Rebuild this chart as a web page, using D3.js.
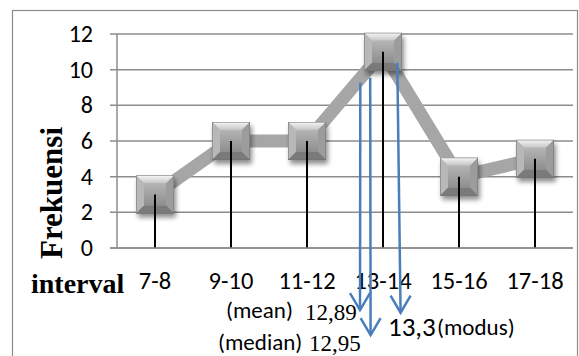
<!DOCTYPE html>
<html><head><meta charset="utf-8">
<script src="https://cdn.jsdelivr.net/npm/d3@7"></script>
<style>
html,body{margin:0;padding:0;background:#fff;}
svg{display:block;}
</style></head>
<body>
<svg id="chart" width="579" height="356"></svg>
<script>
// ---- data ----
const categories = ["7-8","9-10","11-12","13-14","15-16","17-18"];
const frequencies = [3, 6, 6, 11, 4, 5];
const yTicks = [0, 2, 4, 6, 8, 10, 12];
const xTitle = "interval";
const yTitle = "Frekuensi";
// annotation arrows (x in interval units, y in frequency units)
const annoNames = ["(mean)", "(median)", "(modus)"];
const annoValues = ["12,89", "12,95", "13,3"];
const arrowTopX = [12.903, 13.163, 13.876];
const arrowTipX = [12.895, 13.174, 13.963];
const arrowTopY = [9.27, 9.55, 10.39];
const arrowTipY = [-3.48, -4.88, -3.63];

const sans = "Carlito, Calibri, Lato, 'Open Sans', sans-serif";
const serif = "'Liberation Serif', 'Times New Roman', serif";

const svg = d3.select("#chart");
const plot = {left: 117, right: 573, top: 34, bottom: 248};

const x = d3.scaleBand().domain(categories).range([plot.left, plot.right]).paddingInner(0).paddingOuter(0);
const xv = d3.scaleLinear().domain([6.5, 18.5]).range([plot.left, plot.right]);
const y = d3.scaleLinear().domain([0, 12]).range([plot.bottom, plot.top]);
const cx = c => x(c) + x.bandwidth() / 2;

const defs = svg.append("defs");
const sh = defs.append("filter").attr("id","shadow").attr("x","-50%").attr("y","-50%").attr("width","200%").attr("height","200%");
sh.append("feGaussianBlur").attr("in","SourceAlpha").attr("stdDeviation",2.5);
sh.append("feOffset").attr("dx",2).attr("dy",4).attr("result","ob");
sh.append("feComponentTransfer").append("feFuncA").attr("type","linear").attr("slope",0.45);
const topG = defs.append("linearGradient").attr("id","topg").attr("x1",0).attr("y1",0).attr("x2",0).attr("y2",1);
topG.append("stop").attr("offset","0").attr("stop-color","#f6f6f6");
topG.append("stop").attr("offset","1").attr("stop-color","#c4c4c4");
const midG = defs.append("linearGradient").attr("id","midg").attr("x1",0).attr("y1",0).attr("x2",0).attr("y2",1);
midG.append("stop").attr("offset","0").attr("stop-color","#b4b4b4");
midG.append("stop").attr("offset","1").attr("stop-color","#8e8e8e");

// outer chart border
svg.append("rect").attr("x",12.5).attr("y",10.5).attr("width",565).attr("height",360)
  .attr("fill","none").attr("stroke","#8a8a8a").attr("stroke-width",1.2);

// gridlines + y ticks
svg.append("g").selectAll("line").data(yTicks).join("line")
  .attr("x1", plot.left - 7).attr("x2", plot.right)
  .attr("y1", d => y(d)).attr("y2", d => y(d))
  .attr("stroke","#8c8c8c").attr("stroke-width",1.5);
// y axis line
svg.append("line").attr("x1",plot.left).attr("x2",plot.left).attr("y1",plot.top).attr("y2",plot.bottom)
  .attr("stroke","#8c8c8c").attr("stroke-width",1.5);

// y tick labels
svg.append("g").selectAll("text").data(yTicks).join("text")
  .attr("x", 93).attr("y", d => y(d) + 8)
  .attr("text-anchor","end").attr("font-family",sans).attr("font-size",24).attr("fill","#000")
  .text(d => d);

// category labels
svg.append("g").selectAll("text").data(categories).join("text")
  .attr("x", d => cx(d)).attr("y", 289)
  .attr("text-anchor","middle").attr("font-family",sans).attr("font-size",24.5).attr("fill","#000")
  .text(d => d);

// axis titles
svg.append("text").attr("x",31).attr("y",293).attr("font-family",serif).attr("font-weight","bold")
  .attr("font-size",28).attr("fill","#000").text(xTitle);
svg.append("text").attr("transform","translate(62,193) rotate(-90)").attr("text-anchor","middle")
  .attr("font-family",serif).attr("font-weight","bold").attr("font-size",31).attr("fill","#000").text(yTitle);

// gray connecting line
const pts = categories.map((c,i) => [cx(c), y(frequencies[i])]);
svg.append("path").attr("d", d3.line()(pts)).attr("fill","none")
  .attr("stroke","#a6a6a6").attr("stroke-width",13).attr("stroke-linejoin","miter");

// markers
const s = 38, b = 8;
const mk = svg.append("g").selectAll("g").data(pts).join("g")
  .attr("transform", d => `translate(${d[0]-s/2},${d[1]-s/2})`);
mk.append("rect").attr("width",s).attr("height",s).attr("fill","#888").attr("filter","url(#shadow)");
mk.append("rect").attr("width",s).attr("height",s).attr("fill","url(#midg)");
mk.append("polygon").attr("points",`0,0 ${s},0 ${s-b},${b} ${b},${b}`).attr("fill","url(#topg)");
mk.append("polygon").attr("points",`0,0 ${b},${b} ${b},${s-b} 0,${s}`).attr("fill","#b8b8b8");
mk.append("polygon").attr("points",`${s},0 ${s},${s} ${s-b},${s-b} ${s-b},${b}`).attr("fill","#9c9c9c");
mk.append("polygon").attr("points",`0,${s} ${b},${s-b} ${s-b},${s-b} ${s},${s}`).attr("fill","#7a7a7a");
mk.append("rect").attr("x",b).attr("y",b).attr("width",s-2*b).attr("height",s-2*b).attr("fill","url(#midg)");
mk.append("rect").attr("x",0.25).attr("y",0.25).attr("width",s-0.5).attr("height",s-0.5)
  .attr("fill","none").attr("stroke","#6e6e6e").attr("stroke-width",0.5);

// drop lines
svg.append("g").selectAll("line").data(categories).join("line")
  .attr("x1", d => cx(d)).attr("x2", d => cx(d))
  .attr("y1", (d,i) => y(frequencies[i])).attr("y2", y(0))
  .attr("stroke","#000").attr("stroke-width",2);

// x axis line
svg.append("line").attr("x1",plot.left-7).attr("x2",plot.right).attr("y1",plot.bottom).attr("y2",plot.bottom)
  .attr("stroke","#8c8c8c").attr("stroke-width",1.5);

// blue arrows
const blue = "#4a7ebb";
const ag = svg.append("g").attr("stroke",blue).attr("stroke-width",2.5).attr("fill","none");
annoNames.forEach((n,i) => {
  const x1 = xv(arrowTopX[i]), y1 = y(arrowTopY[i]);
  const x2 = xv(arrowTipX[i]), y2 = y(arrowTipY[i]);
  ag.append("line").attr("x1",x1).attr("y1",y1).attr("x2",x2).attr("y2",y2);
  ag.append("polyline").attr("points",`${x2-10},${y2-17} ${x2},${y2} ${x2+10},${y2-17}`)
    .attr("stroke-linejoin","miter");
});

// annotation texts
const at = svg.append("g").attr("fill","#000");
at.append("text").attr("x",226).attr("y",318).attr("font-family",sans).attr("font-size",23).text(annoNames[0]);
at.append("text").attr("x",305).attr("y",320).attr("font-family",serif).attr("font-size",23).text(annoValues[0]);
at.append("text").attr("x",218).attr("y",350).attr("font-family",sans).attr("font-size",23).text(annoNames[1]);
at.append("text").attr("x",309).attr("y",351).attr("font-family",serif).attr("font-size",23).text(annoValues[1]);
at.append("text").attr("x",388).attr("y",336).attr("font-family",sans).attr("font-size",27).text(annoValues[2]);
at.append("text").attr("x",437).attr("y",335).attr("font-family",sans).attr("font-size",23).text(annoNames[2]);
</script>
</body></html>
